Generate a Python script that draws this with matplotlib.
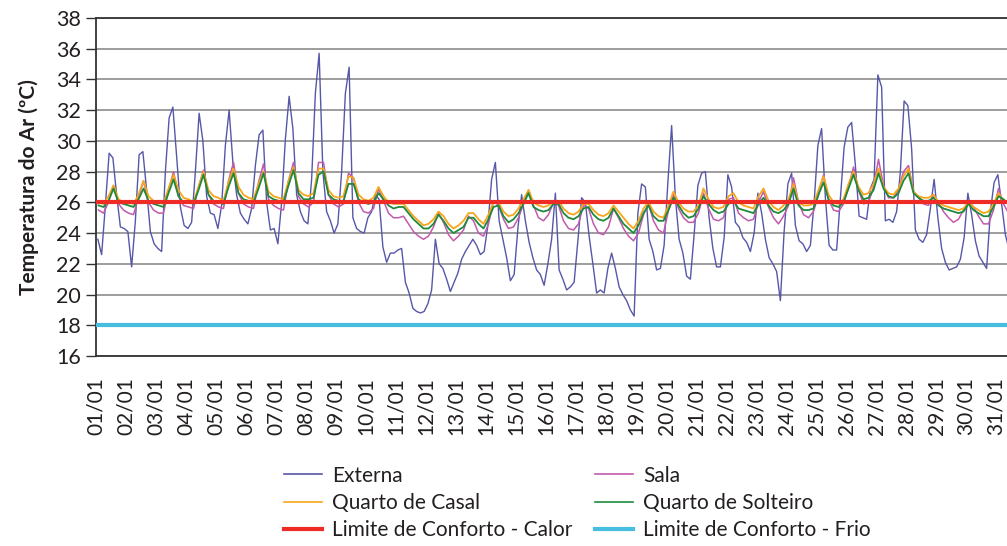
import matplotlib
matplotlib.use('Agg')
import matplotlib.pyplot as plt
import numpy as np
from matplotlib.lines import Line2D

# ---------------- data ----------------
dias = ['01/01', '02/01', '03/01', '04/01', '05/01', '06/01', '07/01', '08/01',
        '09/01', '10/01', '11/01', '12/01', '13/01', '14/01', '15/01', '16/01',
        '17/01', '18/01', '19/01', '20/01', '21/01', '22/01', '23/01', '24/01',
        '25/01', '26/01', '27/01', '28/01', '29/01', '30/01', '31/01']

# Externa: every 3 h starting 01:30 of 01/01 (degC)
externa = [
    23.6, 22.6, 25.8, 29.2, 28.9, 26.5, 24.4, 24.3,
    24.1, 21.8, 24.8, 29.1, 29.3, 26.8, 24.1, 23.3,
    23.0, 22.8, 28.0, 31.5, 32.2, 29.0, 25.7, 24.5,
    24.3, 24.7, 28.0, 31.8, 30.0, 26.4, 25.3, 25.2,
    24.3, 25.8, 29.7, 32.0, 28.6, 26.5, 25.3, 24.9,
    24.6, 25.6, 28.4, 30.4, 30.7, 26.0, 24.2, 24.3,
    23.3, 26.0, 30.1, 32.9, 30.8, 26.5, 25.4, 24.8,
    24.6, 27.5, 33.1, 35.7, 28.0, 25.4, 24.8, 24.0,
    24.6, 28.0, 33.1, 34.8, 25.0, 24.3, 24.1, 24.0,
    25.0, 25.4, 26.5, 26.2, 23.1, 22.1, 22.7, 22.7,
    22.9, 23.0, 20.8, 20.1, 19.1, 18.9, 18.8, 18.9,
    19.4, 20.3, 23.6, 22.0, 21.7, 21.0, 20.2, 20.8,
    21.4, 22.3, 22.8, 23.2, 23.6, 23.2, 22.6, 22.8,
    24.5, 27.5, 28.6, 24.8, 23.6, 22.4, 20.9, 21.3,
    24.3, 26.5, 24.8, 23.4, 22.4, 21.6, 21.3, 20.6,
    22.0, 23.6, 26.6, 21.6, 21.0, 20.3, 20.5, 20.8,
    23.5, 26.3, 26.0, 23.8, 22.0, 20.1, 20.3, 20.1,
    21.7, 22.7, 21.7, 20.5, 20.0, 19.6, 19.0, 18.6,
    25.3, 27.2, 27.0, 23.6, 22.8, 21.6, 21.7, 23.2,
    27.3, 31.0, 26.3, 23.6, 22.7, 21.2, 21.0, 23.9,
    27.1, 27.9, 28.0, 25.0, 23.0, 21.8, 21.8, 23.7,
    27.8, 27.0, 24.7, 24.4, 23.7, 23.4, 22.8, 24.0,
    26.6, 25.3, 23.6, 22.4, 22.0, 21.5, 19.6, 24.1,
    27.2, 27.9, 24.5, 23.5, 23.3, 22.8, 23.2, 26.0,
    29.7, 30.8, 26.3, 23.2, 22.9, 22.9, 26.3, 29.6,
    30.9, 31.2, 28.4, 25.1, 25.0, 24.9, 26.9, 27.5,
    34.3, 33.5, 24.8, 24.9, 24.7, 25.4, 28.0, 32.6,
    32.3, 29.5, 24.2, 23.6, 23.4, 23.9, 25.6, 27.5,
    25.0, 23.0, 22.1, 21.6, 21.7, 21.8, 22.3, 23.7,
    26.6, 25.2, 23.5, 22.5, 22.1, 21.7, 25.4, 27.3,
    27.8, 25.9, 23.9, 22.9,
]

# Interior rooms: every 4 h starting 02:00 of 01/01 (degC)
sala = [
    25.5, 25.3, 26.0, 27.1, 25.9, 25.5,
    25.3, 25.2, 26.3, 27.4, 26.0, 25.5,
    25.3, 25.3, 26.8, 28.0, 26.4, 25.8,
    25.7, 25.6, 27.0, 28.1, 26.5, 25.9,
    25.7, 25.6, 27.4, 28.6, 26.6, 25.9,
    25.7, 25.6, 27.3, 28.5, 26.2, 25.8,
    25.6, 25.5, 27.4, 28.6, 26.4, 25.9,
    25.7, 26.0, 28.6, 28.6, 26.5, 25.9,
    25.7, 25.9, 27.9, 27.6, 26.0, 25.4,
    25.3, 25.6, 26.9, 26.1, 25.3, 25.0,
    25.0, 25.1, 24.6, 24.1, 23.8, 23.6,
    23.8, 24.4, 25.3, 24.7, 23.9, 23.5,
    23.8, 24.2, 25.1, 24.8, 24.0, 23.8,
    24.6, 26.1, 25.8, 24.9, 24.3, 24.4,
    25.0, 25.9, 26.8, 25.8, 25.0, 24.8,
    25.2, 26.0, 25.8, 24.8, 24.3, 24.2,
    24.6, 25.8, 25.6, 24.6, 24.0, 23.9,
    24.4, 25.6, 25.0, 24.3, 23.8, 23.5,
    24.0, 25.2, 25.9, 24.8, 24.2, 24.0,
    25.5, 26.5, 25.6, 25.0, 24.7, 24.7,
    25.3, 26.6, 25.6, 24.9, 24.8, 25.0,
    26.2, 26.3, 25.3, 25.0, 24.8, 24.9,
    26.0, 26.7, 25.7, 25.0, 24.6, 25.1,
    25.8, 27.6, 26.0, 25.2, 25.0, 25.4,
    26.5, 27.8, 26.2, 25.5, 25.4, 25.9,
    27.0, 28.3, 26.8, 25.9, 26.0, 27.0,
    28.8, 27.1, 26.3, 26.3, 26.8, 28.0,
    28.4, 26.7, 26.3, 25.9, 25.8, 26.5,
    26.0, 25.4, 25.0, 24.7, 24.9, 25.5,
    26.1, 25.7, 25.1, 24.6, 24.6, 25.5,
    26.9, 25.9, 25.3,
]

quarto_casal = [
    26.0, 25.9, 26.4, 27.1, 26.2, 26.0,
    26.0, 25.9, 26.5, 27.4, 26.4, 26.1,
    26.0, 25.9, 26.9, 27.8, 26.8, 26.3,
    26.2, 26.0, 27.0, 28.0, 26.8, 26.4,
    26.3, 26.1, 27.3, 28.2, 27.0, 26.5,
    26.3, 26.2, 27.2, 28.0, 26.7, 26.4,
    26.3, 26.2, 27.4, 28.3, 26.8, 26.5,
    26.4, 26.6, 28.2, 28.2, 26.8, 26.4,
    26.3, 26.4, 27.7, 27.6, 26.5, 26.2,
    26.1, 26.3, 27.0, 26.4, 26.0, 25.9,
    25.9, 25.9, 25.5, 25.1, 24.8, 24.5,
    24.6, 24.9, 25.4, 25.1, 24.6, 24.3,
    24.5, 24.8, 25.3, 25.3, 24.9, 24.6,
    25.2, 26.0, 26.0, 25.4, 25.1, 25.2,
    25.6, 26.2, 26.8, 26.0, 25.8, 25.7,
    25.8, 26.1, 26.1, 25.6, 25.3, 25.2,
    25.4, 25.9, 25.9, 25.5, 25.2, 25.1,
    25.3, 25.8, 25.4, 25.0, 24.6, 24.3,
    24.8, 25.6, 26.0, 25.4, 25.1, 25.0,
    25.8, 26.7, 26.0, 25.6, 25.4, 25.4,
    25.8, 26.9, 26.2, 25.7, 25.6, 25.7,
    26.4, 26.6, 26.0, 25.8, 25.7, 25.6,
    26.4, 26.9, 26.1, 25.7, 25.5, 25.8,
    26.2, 27.2, 26.0, 25.8, 25.8, 25.9,
    26.8, 27.7, 26.5, 26.0, 25.9, 26.2,
    27.2, 28.0, 27.0, 26.5, 26.6, 27.2,
    28.2, 27.0, 26.6, 26.5, 26.9, 27.7,
    28.2, 26.7, 26.4, 26.3, 26.3, 26.5,
    26.0, 25.8, 25.7, 25.6, 25.5, 25.6,
    26.0, 25.7, 25.5, 25.3, 25.4, 25.9,
    26.6, 26.1, 25.9,
]

quarto_solteiro = [
    25.8, 25.7, 26.1, 26.9, 26.0, 25.9,
    25.8, 25.7, 26.2, 26.9, 26.1, 25.9,
    25.8, 25.7, 26.6, 27.5, 26.4, 26.0,
    26.0, 25.9, 26.8, 27.8, 26.5, 26.1,
    26.0, 25.9, 27.0, 27.9, 26.6, 26.2,
    26.1, 26.0, 26.9, 27.9, 26.4, 26.2,
    26.1, 26.0, 27.1, 28.1, 26.6, 26.2,
    26.2, 26.3, 27.8, 28.0, 26.5, 26.2,
    26.1, 26.1, 27.2, 27.2, 26.2, 26.0,
    25.9, 26.0, 26.6, 26.2, 25.8, 25.6,
    25.7, 25.7, 25.3, 24.9, 24.6, 24.3,
    24.3, 24.6, 25.2, 24.8, 24.3, 24.0,
    24.2, 24.4, 25.0, 25.0, 24.6, 24.3,
    24.9, 25.7, 25.8, 25.1, 24.7, 24.9,
    25.3, 25.9, 26.6, 25.7, 25.5, 25.4,
    25.5, 25.9, 25.9, 25.3, 25.0, 24.9,
    25.1, 25.6, 25.7, 25.2, 24.9, 24.8,
    25.0, 25.6, 25.1, 24.6, 24.3, 24.0,
    24.5, 25.3, 25.8, 25.1, 24.8, 24.8,
    25.5, 26.3, 25.8, 25.3, 25.0, 25.1,
    25.6, 26.4, 25.9, 25.5, 25.3, 25.4,
    25.9, 26.1, 25.6, 25.5, 25.4, 25.3,
    25.9, 26.3, 25.8, 25.4, 25.3, 25.5,
    25.9, 26.9, 25.8, 25.5, 25.5, 25.6,
    26.5, 27.3, 26.2, 25.8, 25.7, 26.0,
    26.9, 27.8, 26.8, 26.2, 26.3, 26.8,
    27.9, 26.9, 26.4, 26.3, 26.6, 27.4,
    27.9, 26.6, 26.3, 26.1, 26.1, 26.3,
    25.8, 25.6, 25.5, 25.4, 25.3, 25.4,
    25.9, 25.5, 25.3, 25.1, 25.1, 25.7,
    26.4, 26.2, 25.9,
]

limite_calor = 26
limite_frio = 18

# ---------------- plotting ----------------
plt.rcParams['font.family'] = ['Lato', 'DejaVu Sans']
txt = '#231F20'

fig = plt.figure(figsize=(10.07, 5.46), dpi=100)
ax = fig.add_axes([96 / 1007, 1 - 356 / 546, 1 - 96 / 1007, (356 - 18) / 546])

t_ext = np.arange(len(externa)) * 3 / 24 + 1.5 / 24
t_int = np.arange(len(sala)) * 4 / 24 + 2 / 24

c_ext = '#5657A8'
c_sala = '#C25AAE'
c_casal = '#F7A51C'
c_solt = '#1E8A3C'
c_calor = '#EE2B24'
c_frio = '#47BEE0'

ax.plot(t_ext, externa, color=c_ext, lw=1.0, zorder=3)
ax.plot(t_int, sala, color=c_sala, lw=1.1, zorder=4)
ax.plot(t_int, quarto_casal, color=c_casal, lw=1.3, zorder=5)
ax.plot(t_int, quarto_solteiro, color=c_solt, lw=1.3, zorder=6)
ax.axhline(limite_calor, color=c_calor, lw=3.0, zorder=7)
ax.axhline(limite_frio, color=c_frio, lw=3.0, zorder=7)

ax.set_ylim(16, 38)
ax.set_xlim(0, (1007 - 96) / 30)
ax.set_yticks(np.arange(16, 39, 2))
ax.set_xticks(np.arange(len(dias)))
ax.set_xticklabels(dias, rotation=90, fontsize=15, color=txt)
ax.tick_params(axis='x', length=0, pad=15)
ax.tick_params(axis='y', length=7, width=1, color='#333333', labelsize=15.5,
               labelcolor=txt, pad=4)
ax.yaxis.grid(True, color='#8C8C8C', lw=1.2)
ax.set_axisbelow(True)
for s in ['top', 'left', 'bottom']:
    ax.spines[s].set_color('#333333')
    ax.spines[s].set_linewidth(1.3)
ax.spines['right'].set_visible(False)

ax.set_ylabel('Temperatura do Ar (ºC)', fontsize=15, fontweight='bold',
              color=txt, labelpad=12)

handles = [
    Line2D([], [], color=c_ext, lw=1.2),
    Line2D([], [], color=c_casal, lw=1.2),
    Line2D([], [], color=c_calor, lw=3),
    Line2D([], [], color=c_sala, lw=1.2),
    Line2D([], [], color=c_solt, lw=1.2),
    Line2D([], [], color=c_frio, lw=3),
]
labels = ['Externa', 'Quarto de Casal', 'Limite de Conforto - Calor',
          'Sala', 'Quarto de Solteiro', 'Limite de Conforto - Frio']
leg = fig.legend(handles, labels, ncol=2, frameon=False, fontsize=15,
                 loc='center left', bbox_to_anchor=(284 / 1007, 1 - 503 / 546),
                 handlelength=1.8, handletextpad=0.5, columnspacing=1.1,
                 labelspacing=0.36, borderpad=0, borderaxespad=0)
for t in leg.get_texts():
    t.set_color(txt)

fig.savefig('out.png', dpi=100)
